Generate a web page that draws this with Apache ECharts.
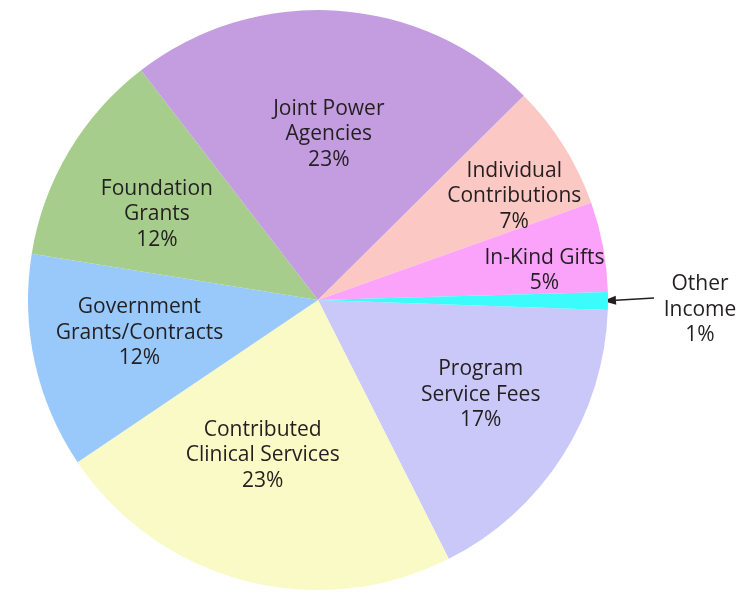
<!DOCTYPE html>
<html>
<head>
<meta charset="utf-8">
<script src="https://cdn.jsdelivr.net/npm/echarts@6/dist/echarts.min.js"></script>
<style>
html,body{margin:0;padding:0;background:#fff;}
#chart{width:746px;height:593px;}
</style>
</head>
<body>
<div id="chart"></div>
<script>
const categories = ['Program Service Fees','Contributed Clinical Services','Government Grants/Contracts','Foundation Grants','Joint Power Agencies','Individual Contributions','In-Kind Gifts','Other Income'];
const labelTexts = ['Program\nService Fees','Contributed\nClinical Services','Government\nGrants/Contracts','Foundation\nGrants','Joint Power\nAgencies','Individual\nContributions','In-Kind Gifts','Other\nIncome'];
const values = [17,23,12,12,23,7,5,1];
const colors = ['#c9c8f9','#fafac6','#99c9fb','#a6cd8b','#c49de0','#fcc8c4','#fba2fa','#3bfbfb'];
const labelOffsets = [[38,15],[-18,12],[-34,1],[-34,-10],[1,-18],[71,-25],[81,-2.5],[234,9]];

const CX = 318, CY = 300, R = 290, START = -2;
const chart = echarts.init(document.getElementById('chart'), null, {renderer:'canvas'});

const data = categories.map((c,i)=>({
  name: c,
  value: values[i],
  itemStyle: {color: colors[i]},
  label: {offset: labelOffsets[i]}
}));

// arrow for Other Income, computed from the data angle
const total = values.reduce((a,b)=>a+b,0);
let cum = 0;
for (let i=0;i<values.length-1;i++) cum += values[i];
const midDeg = START - 360*(cum + values[values.length-1]/2)/total;
const rad = midDeg*Math.PI/180;
const tipX = CX + (R-5)*Math.cos(rad), tipY = CY - (R-5)*Math.sin(rad);
const tailX = tipX + 51, tailY = tipY - 3;
const ang = Math.atan2(tailY-tipY, tailX-tipX);
const hl = 13, hw = 4.5;
const bx = tipX + hl*Math.cos(ang), by = tipY + hl*Math.sin(ang);
const px = -Math.sin(ang)*hw, py = Math.cos(ang)*hw;

chart.setOption({
  animation: false,
  backgroundColor: '#ffffff',
  series: [{
    type: 'pie',
    center: [CX, CY],
    radius: [0, R],
    startAngle: START,
    clockwise: true,
    avoidLabelOverlap: false,
    silent: true,
    itemStyle: {borderWidth: 0},
    label: {
      show: true,
      position: 'inside',
      fontFamily: 'Open Sans',
      fontSize: 21,
      lineHeight: 25.5,
      color: '#231f20',
      align: 'center',
      formatter: p => labelTexts[p.dataIndex] + '\n' + p.value + '%'
    },
    labelLine: {show: false},
    data: data
  }],
  graphic: [
    {type:'line', shape:{x1:bx, y1:by, x2:tailX, y2:tailY}, style:{stroke:'#231f20', lineWidth:1.3}},
    {type:'polygon', shape:{points:[[tipX,tipY],[bx+px,by+py],[bx-px,by-py]]}, style:{fill:'#231f20'}}
  ]
});
</script>
</body>
</html>
